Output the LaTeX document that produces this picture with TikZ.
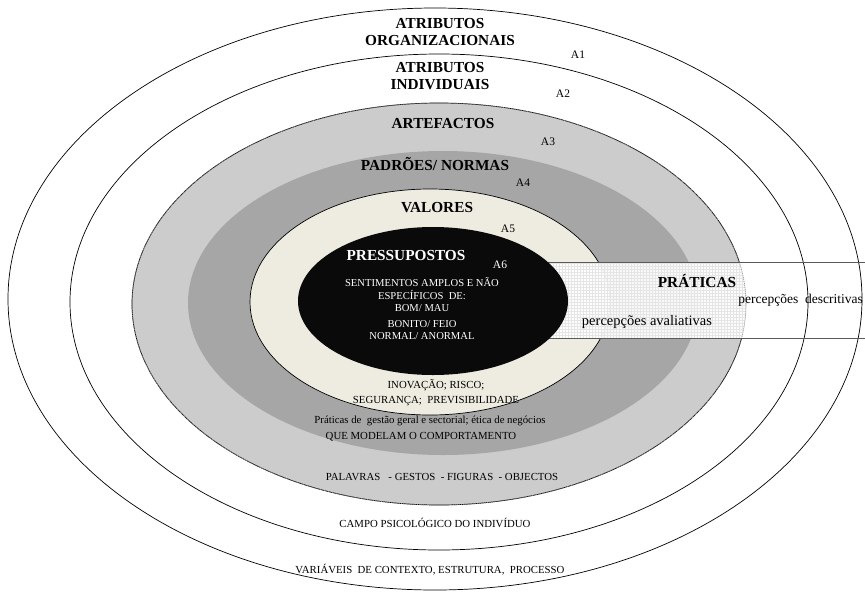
\documentclass[tikz,border=0pt]{standalone}
\usepackage{fontspec}
\setmainfont{Liberation Serif}
\begin{document}
\begin{tikzpicture}[x=1pt,y=-1pt,
  ring/.style={draw=black,line width=0.7pt},
  big/.style={font=\fontsize{15.3}{16.5}\selectfont\bfseries,align=center,inner sep=0pt},
  lab/.style={font=\fontsize{11.5}{13}\selectfont,inner sep=0pt},
  small/.style={font=\fontsize{10.8}{12}\selectfont,inner sep=0pt},
  wsmall/.style={font=\fontsize{10.6}{12}\selectfont,inner sep=0pt,text=white},
  percep/.style={font=\fontsize{13.5}{15}\selectfont,inner sep=0pt},
  gridline/.style={black!10,line width=0.35pt}]
\useasboundingbox (0,0) rectangle (865,595);
\fill[white] (0,0) rectangle (865,595);
% rings
\draw[ring,fill=white] (435,299) ellipse [x radius=427pt, y radius=291pt];
\draw[ring,fill=white] (439,302) ellipse [x radius=369pt, y radius=248pt];
\draw[ring,fill=black!20] (439,304) ellipse [x radius=307pt, y radius=201pt];
\fill[black!35] (443,303) ellipse [x radius=255pt, y radius=152pt];
\draw[ring,fill={rgb,255:red,238;green,236;blue,225}] (430,302) ellipse [x radius=180pt, y radius=113pt];
% practices band
\fill[white,opacity=0.92] (433,262) rectangle (865,338);
\begin{scope}
  \clip (439,304) ellipse [x radius=307pt, y radius=201pt];
  \clip (433,262) rectangle (865,338);
  \foreach \gx in {433,436,...,760} {\draw[gridline] (\gx,262) -- (\gx,338);}
  \foreach \gy in {263,266,...,338} {\draw[gridline] (433,\gy) -- (760,\gy);}
\end{scope}
\draw[black!45,line width=0.6pt,dash pattern=on 1pt off 1pt] (439,304) ellipse [x radius=307pt, y radius=201pt];
\begin{scope}
  \clip (433,262) rectangle (865,338);
  \draw[ring] (435,299) ellipse [x radius=427pt, y radius=291pt];
  \draw[ring] (439,302) ellipse [x radius=369pt, y radius=248pt];
\end{scope}
\draw[black!65,line width=1pt] (433,262) -- (865,262);
\draw[black!65,line width=1pt] (433,338) -- (865,338);
\fill[black!96] (433,301) ellipse [x radius=135pt, y radius=74pt];
% labels
\node[big] (org) at (440,32) {ATRIBUTOS\\ORGANIZACIONAIS};
\node[lab] (a1) at (578,55) {A1};
\node[big] (ind) at (440,76) {ATRIBUTOS\\INDIVIDUAIS};
\node[lab] (a2) at (563,94) {A2};
\node[big] (art) at (443,124) {ARTEFACTOS};
\node[lab] (a3) at (548,142) {A3};
\node[big] (pad) at (435,164) {PADRÕES/ NORMAS};
\node[lab] (a4) at (523,183) {A4};
\node[big] (val) at (437,208) {VALORES};
\node[lab] (a5) at (508,229) {A5};
\node[big,text=white] (pre) at (406,256) {PRESSUPOSTOS};
\node[lab,text=white] (a6) at (500,265) {A6};
\node[wsmall] (s1) at (422,282) {SENTIMENTOS AMPLOS E NÃO};
\node[wsmall] (s2) at (422,295) {ESPECÍFICOS \ DE:};
\node[wsmall] (s3) at (422,308) {BOM/ MAU};
\node[wsmall] (s4) at (422,324) {BONITO/ FEIO};
\node[wsmall] (s5) at (422,336) {NORMAL/ ANORMAL};
\node[small] (v1) at (436,385) {INOVAÇÃO; RISCO;};
\node[small] (v2) at (436,401) {SEGURANÇA; \ PREVISIBILIDADE};
\node[small] (n1) at (430,421) {Práticas de \ gestão geral e sectorial; ética de negócios};
\node[small] (n2) at (421,437) {QUE MODELAM O COMPORTAMENTO};
\node[small] (r1) at (442,477) {PALAVRAS \ \ - GESTOS \ - FIGURAS \ - OBJECTOS};
\node[small] (c1) at (435,523) {CAMPO PSICOLÓGICO DO INDIVÍDUO};
\node[small] (c2) at (430,570) {VARIÁVEIS \ DE CONTEXTO, ESTRUTURA, \ PROCESSO};
\node[big] (pra) at (697,281) {PRÁTICAS};
\node[percep,anchor=east] (pd) at (863,300) {percepções \ descritivas};
\node[percep,font=\fontsize{14.5}{16}\selectfont] (pa) at (647,322) {percepções avaliativas};
\end{tikzpicture}
\end{document}
